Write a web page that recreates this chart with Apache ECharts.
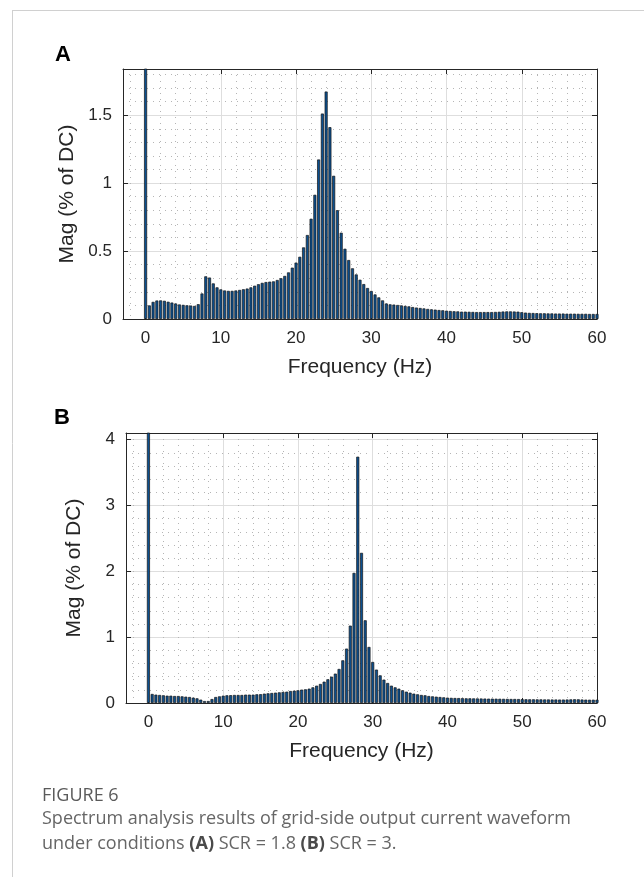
<!DOCTYPE html>
<html>
<head>
<meta charset="utf-8">
<script src="https://cdn.jsdelivr.net/npm/echarts@6/dist/echarts.min.js"></script>
<style>
  html, body { margin: 0; padding: 0; background: #fff; }
  #chart { width: 644px; height: 877px; }
</style>
</head>
<body>
<div id="chart"></div>
<script>
// frequency bins (Hz), 0.5 Hz resolution
const freqHz = [
  0, 0.5, 1, 1.5, 2, 2.5, 3, 3.5, 4, 4.5,
  5, 5.5, 6, 6.5, 7, 7.5, 8, 8.5, 9, 9.5,
  10, 10.5, 11, 11.5, 12, 12.5, 13, 13.5, 14, 14.5,
  15, 15.5, 16, 16.5, 17, 17.5, 18, 18.5, 19, 19.5,
  20, 20.5, 21, 21.5, 22, 22.5, 23, 23.5, 24, 24.5,
  25, 25.5, 26, 26.5, 27, 27.5, 28, 28.5, 29, 29.5,
  30, 30.5, 31, 31.5, 32, 32.5, 33, 33.5, 34, 34.5,
  35, 35.5, 36, 36.5, 37, 37.5, 38, 38.5, 39, 39.5,
  40, 40.5, 41, 41.5, 42, 42.5, 43, 43.5, 44, 44.5,
  45, 45.5, 46, 46.5, 47, 47.5, 48, 48.5, 49, 49.5,
  50, 50.5, 51, 51.5, 52, 52.5, 53, 53.5, 54, 54.5,
  55, 55.5, 56, 56.5, 57, 57.5, 58, 58.5, 59, 59.5,
  60
];

// (A) SCR = 1.8, Mag (% of DC); DC bin goes off the top
const magA = [
  100, 0.100, 0.126, 0.136, 0.137, 0.134, 0.127, 0.121, 0.114, 0.107,
  0.104, 0.101, 0.099, 0.096, 0.109, 0.188, 0.314, 0.305, 0.262, 0.233,
  0.218, 0.210, 0.207, 0.207, 0.210, 0.214, 0.219, 0.224, 0.233, 0.245,
  0.256, 0.266, 0.272, 0.275, 0.277, 0.287, 0.300, 0.317, 0.343, 0.378,
  0.415, 0.458, 0.527, 0.618, 0.738, 0.914, 1.174, 1.512, 1.674, 1.412,
  1.054, 0.801, 0.635, 0.517, 0.434, 0.373, 0.328, 0.289, 0.257, 0.228,
  0.206, 0.181, 0.159, 0.137, 0.114, 0.108, 0.106, 0.103, 0.100, 0.096,
  0.093, 0.088, 0.084, 0.081, 0.078, 0.074, 0.071, 0.069, 0.066, 0.064,
  0.061, 0.059, 0.057, 0.056, 0.054, 0.054, 0.053, 0.052, 0.051, 0.051,
  0.051, 0.051, 0.051, 0.052, 0.053, 0.055, 0.056, 0.056, 0.055, 0.054,
  0.050, 0.047, 0.045, 0.044, 0.043, 0.042, 0.042, 0.041, 0.041, 0.040,
  0.040, 0.040, 0.039, 0.039, 0.039, 0.038, 0.038, 0.038, 0.037, 0.037,
  0.037
];

// (B) SCR = 3
const magB = [
  100, 0.137, 0.127, 0.122, 0.117, 0.111, 0.111, 0.106, 0.106, 0.101,
  0.096, 0.091, 0.081, 0.071, 0.051, 0.030, 0.030, 0.060, 0.091, 0.101,
  0.111, 0.117, 0.119, 0.122, 0.122, 0.122, 0.127, 0.127, 0.127, 0.132,
  0.134, 0.142, 0.147, 0.152, 0.157, 0.162, 0.167, 0.172, 0.182, 0.187,
  0.193, 0.203, 0.208, 0.218, 0.238, 0.263, 0.289, 0.324, 0.360, 0.400,
  0.446, 0.517, 0.648, 0.826, 1.175, 1.976, 3.740, 2.280, 1.256, 0.851,
  0.623, 0.507, 0.420, 0.355, 0.304, 0.263, 0.238, 0.218, 0.193, 0.172,
  0.157, 0.142, 0.132, 0.122, 0.117, 0.106, 0.101, 0.096, 0.091, 0.086,
  0.081, 0.078, 0.076, 0.075, 0.073, 0.071, 0.071, 0.070, 0.069, 0.068,
  0.067, 0.066, 0.066, 0.065, 0.064, 0.063, 0.062, 0.061, 0.061, 0.060,
  0.058, 0.057, 0.056, 0.056, 0.055, 0.055, 0.054, 0.054, 0.053, 0.053,
  0.052, 0.052, 0.053, 0.055, 0.057, 0.056, 0.053, 0.051, 0.050, 0.050,
  0.050
];

// axis limits (MATLAB-like)
const xLim = [-3, 60];
const yLimA = [0, 1.84];
const yLimB = [0, 4.1];

const AX = '#262626';
const FONT = '"Liberation Sans", Arial, Helvetica, sans-serif';

var chart = echarts.init(document.getElementById('chart'), null, { renderer: 'canvas' });

function mainX(grid) {
  return {
    type: 'value', gridIndex: grid, min: xLim[0], max: xLim[1], splitNumber: 6,
    name: 'Frequency (Hz)', nameLocation: 'middle', nameGap: 38,
    nameTextStyle: { color: AX, fontSize: 21, fontFamily: FONT },
    axisLine: { show: true, onZero: false, lineStyle: { color: AX, width: 1 } },
    axisTick: { show: true, inside: true, length: 5, lineStyle: { color: AX } },
    axisLabel: {
      color: AX, fontSize: 17, fontFamily: FONT, margin: 11,
      formatter: function (v) { return v % 10 === 0 ? String(v) : ''; }
    },
    splitLine: { show: true, lineStyle: { color: '#dedede', width: 1 } },
    minorTick: { show: false, splitNumber: 5 },
    minorSplitLine: { show: true, lineStyle: { color: '#b5b5b5', width: 1, type: [1, 5] } }
  };
}
function topX(grid) {
  return {
    type: 'value', gridIndex: grid, position: 'top', min: xLim[0], max: xLim[1], splitNumber: 6,
    axisLine: { show: true, onZero: false, lineStyle: { color: AX } },
    axisTick: { show: true, inside: true, length: 5, lineStyle: { color: AX } },
    axisLabel: { show: false }, splitLine: { show: false }
  };
}
function mainY(grid, lim, step) {
  return {
    type: 'value', gridIndex: grid, min: lim[0], max: lim[1], interval: step,
    name: 'Mag (% of DC)', nameLocation: 'middle', nameGap: 41,
    nameTextStyle: { color: AX, fontSize: 21, fontFamily: FONT },
    axisLine: { show: true, onZero: false, lineStyle: { color: AX } },
    axisTick: { show: true, inside: true, length: 5, lineStyle: { color: AX } },
    axisLabel: { color: AX, fontSize: 17, fontFamily: FONT, margin: 11, showMaxLabel: false,
      formatter: function (v) { return String(v); } },
    splitLine: { show: true, lineStyle: { color: '#dedede', width: 1 } },
    minorTick: { show: false, splitNumber: 5 },
    minorSplitLine: { show: true, lineStyle: { color: '#b5b5b5', width: 1, type: [1, 5] } }
  };
}
function rightY(grid, lim, step) {
  return {
    type: 'value', gridIndex: grid, position: 'right', min: lim[0], max: lim[1], interval: step,
    axisLine: { show: true, onZero: false, lineStyle: { color: AX } },
    axisTick: { show: true, inside: true, length: 5, lineStyle: { color: AX } },
    axisLabel: { show: false }, splitLine: { show: false }
  };
}
function bars(grid, mags) {
  return {
    type: 'bar', xAxisIndex: grid * 2, yAxisIndex: grid * 2,
    data: freqHz.map(function (f, i) { return [f, mags[i]]; }),
    barWidth: 3, clip: true, silent: true,
    itemStyle: { color: '#0b4f8f', borderColor: '#151515', borderWidth: 0.7 }
  };
}

var capText = '#666666';
var CAPFONT = '"Open Sans", sans-serif';
option = {
  backgroundColor: '#fff',
  animation: false,
  textStyle: { fontFamily: FONT },
  grid: [
    { left: 123, top: 69, width: 474, height: 250 },
    { left: 126, top: 433, width: 471, height: 270 }
  ],
  xAxis: [mainX(0), topX(0), mainX(1), topX(1)],
  yAxis: [mainY(0, yLimA, 0.5), rightY(0, yLimA, 0.5), mainY(1, yLimB, 1), rightY(1, yLimB, 1)],
  series: [bars(0, magA), bars(1, magB)],
  graphic: [
    { type: 'line', shape: { x1: 12, y1: 10.5, x2: 644, y2: 10.5 }, style: { stroke: '#d0d0d0', lineWidth: 1 } },
    { type: 'line', shape: { x1: 12.5, y1: 10, x2: 12.5, y2: 877 }, style: { stroke: '#d0d0d0', lineWidth: 1 } },
    { type: 'text', left: 55, top: 44, style: { text: 'A', font: 'bold 22px ' + FONT, fill: '#000' } },
    { type: 'text', left: 54, top: 407, style: { text: 'B', font: 'bold 22px ' + FONT, fill: '#000' } },
    { type: 'text', left: 42, top: 787, style: { text: 'FIGURE 6', font: '18px ' + CAPFONT, fill: '#5a5a5a' } },
    { type: 'text', left: 42, top: 810, style: { text: 'Spectrum analysis results of grid-side output current waveform', font: '18px ' + CAPFONT, fill: capText } },
    { type: 'text', left: 42, top: 835, style: {
        text: '{n|under conditions }{b|(A)}{n| SCR = 1.8 }{b|(B)}{n| SCR = 3.}',
        rich: {
          n: { font: '18px ' + CAPFONT, fill: capText },
          b: { font: 'bold 18px ' + CAPFONT, fill: '#4a4a4a' }
        }
    } }
  ]
};
chart.setOption(option);
</script>
</body>
</html>
